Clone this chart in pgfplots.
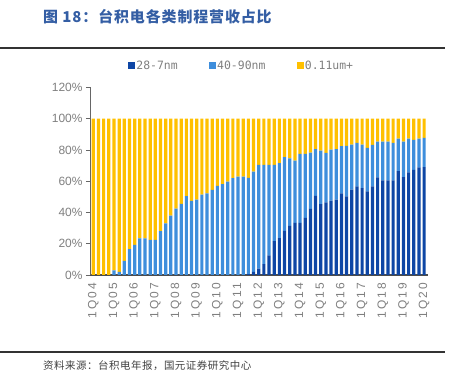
\documentclass[border=0pt]{standalone}
\usepackage{fontspec}
\setmainfont{Liberation Sans}
\newfontfamily\cjktitle[LetterSpace=6]{Noto Sans CJK SC}
\newfontfamily\cjksrc[LetterSpace=5]{Noto Sans CJK SC}
\newfontfamily\tickfont[LetterSpace=20]{Liberation Sans}
\newfontfamily\legfont{DejaVu Sans Mono}
\usepackage{pgfplots}
\usepackage{pgfplotstable}
\pgfplotsset{compat=1.18}
\definecolor{cdark}{RGB}{14,70,165}
\definecolor{clight}{RGB}{62,142,220}
\definecolor{cyel}{RGB}{255,192,0}
\definecolor{ctitle}{RGB}{52,94,164}
\definecolor{ctick}{RGB}{127,127,127}

\pgfplotstableread{
x a b c
0 0 0 100
1 0 0 100
2 0 0 100
3 0 0 100
4 0 3 97
5 0 2 98
6 0 9 91
7 0 16.5 83.5
8 0 19.3 80.7
9 0 23.5 76.5
10 0 23.5 76.5
11 0 22.5 77.5
12 0 22.5 77.5
13 0 28 72
14 0 33 67
15 0 38 62
16 0 42.4 57.6
17 0 45.5 54.5
18 0 50.4 49.6
19 0 47.5 52.5
20 0 48.2 51.8
21 0 51.4 48.6
22 0 52.3 47.7
23 0 54.5 45.5
24 0 57 43
25 0 58.1 41.9
26 0 59.8 40.2
27 0 62 38
28 0 63 37
29 0 63 37
30 0.5 61.7 37.8
31 2 64.2 33.8
32 4 66.5 29.5
33 7 63.5 29.5
34 12.5 58 29.5
35 21.7 48.8 29.5
36 23.6 48 28.4
37 28.2 47.2 24.6
38 31.4 43.3 25.3
39 33.3 39.9 26.8
40 33.3 44.2 22.5
41 36.5 41 22.5
42 42.3 36 21.7
43 50.7 29.8 19.5
44 45.4 34.2 20.4
45 46.5 31.6 21.9
46 47.6 32.7 19.7
47 48.2 32.3 19.5
48 52.2 30.2 17.6
49 50.3 32.3 17.4
50 54.6 28.8 16.6
51 56.7 27.8 15.5
52 55.6 27.8 16.6
53 53.5 27.8 18.7
54 56.7 26.5 16.8
55 62.4 23 14.6
56 60.5 24.9 14.6
57 60.5 24.9 14.6
58 60.5 24 15.5
59 66.4 20.9 12.7
60 62.6 22.8 14.6
61 65.6 21.7 12.7
62 67.3 19.1 13.6
63 68.8 18.5 12.7
64 69 18.7 12.3
}\datatable

\begin{document}
\begin{tikzpicture}
\path[use as bounding box] (0,0) rectangle (451bp,376bp);
\node[anchor=west, text=ctitle, font=\cjktitle\bfseries\fontsize{15}{15}\selectfont, inner sep=0pt] at (43bp,359bp) {图 18：台积电各类制程营收占比};
\draw[line width=1.8bp, black!80] (0bp,328bp) -- (445bp,328bp);
\draw[line width=1.8bp, black!80] (0bp,24bp) -- (445bp,24bp);
\node[anchor=west, text=black!75, font=\cjksrc\fontsize{10.5}{10.5}\selectfont, inner sep=0pt] at (43bp,10bp) {资料来源：台积电年报，国元证券研究中心};
\begin{axis}[
  at={(90bp,101bp)}, anchor=south west,
  scale only axis, width=338bp, height=187.5bp,
  xmin=-0.64, xmax=64.75, ymin=0, ymax=120,
  ybar stacked, bar width=3.2bp,
  axis x line*=bottom, axis y line*=left,
  x axis line style={line width=1.5bp, black!70},
  y axis line style={line width=0.8bp, black!60},
  tick align=outside, major tick length=4bp,
  xtick style={draw=none},
  ytick style={black!60, line width=0.8bp},
  ytick={0,20,...,120},
  yticklabel={\pgfmathprintnumber{\tick}\%},
  /pgf/number format/assume math mode=true,
  y tick label style={font=\fontsize{12}{12}\selectfont, text=ctick},
  xtick={0,4,...,64},
  xticklabels={1Q04,1Q05,1Q06,1Q07,1Q08,1Q09,1Q10,1Q11,1Q12,1Q13,1Q14,1Q15,1Q16,1Q17,1Q18,1Q19,1Q20},
  x tick label style={rotate=90, anchor=east, font=\tickfont\fontsize{12}{12}\selectfont, text=ctick},
  legend columns=3,
  legend style={at={(axis description cs:0.1124,1.1147)}, anchor=west, draw=none, fill=none, inner sep=0pt,
    font=\legfont\fontsize{11.5}{11.5}\selectfont, text=ctick,
    nodes={inner sep=1.2bp},
    /tikz/every even column/.append style={column sep=30bp}},
  legend cell align=left,
]
\addplot[fill=cdark, draw=none, legend image code/.code={\fill[cdark] (0bp,-3.5bp) rectangle (7bp,3.5bp);}] table[x=x,y=a]{\datatable};
\addplot[fill=clight, draw=none, legend image code/.code={\fill[clight] (0bp,-3.5bp) rectangle (7bp,3.5bp);}] table[x=x,y=b]{\datatable};
\addplot[fill=cyel, draw=none, legend image code/.code={\fill[cyel] (0bp,-3.5bp) rectangle (7bp,3.5bp);}] table[x=x,y=c]{\datatable};
\legend{28-7nm,40-90nm,0.11um+}
\end{axis}
\end{tikzpicture}
\end{document}
